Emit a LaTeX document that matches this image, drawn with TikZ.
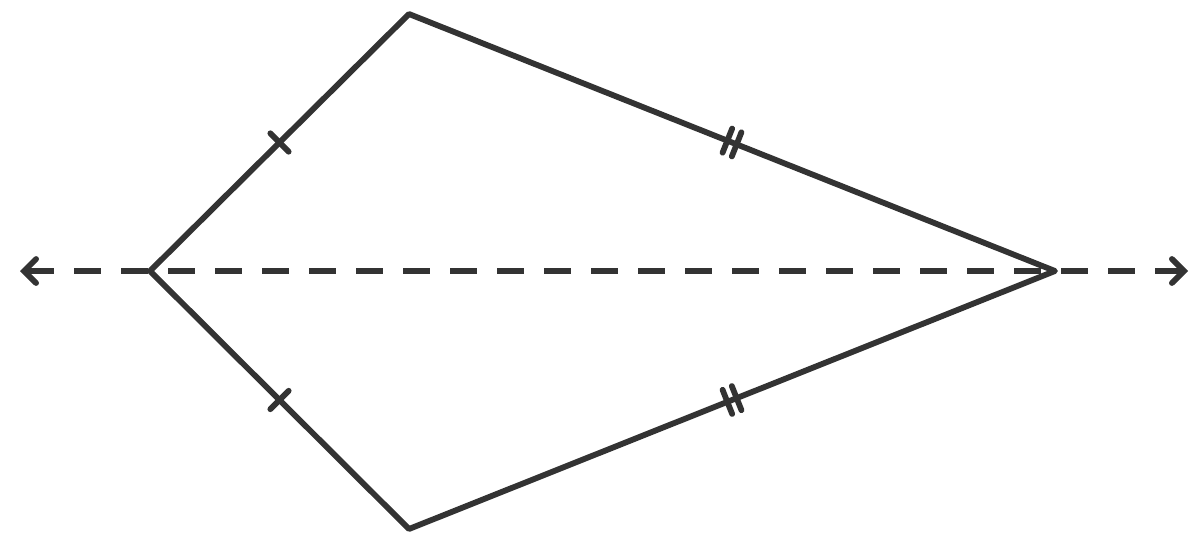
\documentclass[tikz,border=0pt]{standalone}
\usetikzlibrary{calc,arrows.meta}
\definecolor{ink}{HTML}{333333}
\begin{document}
\begin{tikzpicture}[x=1pt,y=-1pt,
  edge/.style={draw=ink,line width=5.8pt,line join=round},
  tick/.style={draw=ink,line width=5.8pt,line cap=round},
  axis/.style={draw=ink,line width=5.8pt,dash pattern=on 27pt off 20pt,
    {Straight Barb[length=12pt,width=24pt,line cap=round]}-{Straight Barb[length=12pt,width=24pt,line cap=round]}}]
\useasboundingbox (0,0) rectangle (1200,544);
\coordinate (L) at (150,271);
\coordinate (T) at (409,14);
\coordinate (R) at (1055,271);
\coordinate (B) at (409,529);
\coordinate (AL) at (20,271);
\coordinate (AR) at (1188,271);
\draw[axis] (AL) -- (AR);
\draw[edge] (L) -- (T) -- (R) -- (B) -- cycle;
% single ticks
\coordinate (M1) at ($(L)!0.5!(T)$);
\coordinate (M2) at ($(L)!0.5!(B)$);
\draw[tick] ($(M1)!13pt!90:(T)$) -- ($(M1)!13pt!-90:(T)$);
\draw[tick] ($(M2)!13pt!90:(B)$) -- ($(M2)!13pt!-90:(B)$);
% double ticks
\coordinate (M3) at ($(T)!0.5!(R)$);
\coordinate (M4) at ($(B)!0.5!(R)$);
\coordinate (M3a) at ($(M3)!5pt!(T)$);
\coordinate (M3b) at ($(M3)!5pt!(R)$);
\coordinate (M4a) at ($(M4)!5pt!(B)$);
\coordinate (M4b) at ($(M4)!5pt!(R)$);
\draw[tick] ($(M3a)!13pt!90:(R)$) -- ($(M3a)!13pt!-90:(R)$);
\draw[tick] ($(M3b)!13pt!90:(R)$) -- ($(M3b)!13pt!-90:(R)$);
\draw[tick] ($(M4a)!13pt!90:(R)$) -- ($(M4a)!13pt!-90:(R)$);
\draw[tick] ($(M4b)!13pt!90:(R)$) -- ($(M4b)!13pt!-90:(R)$);
\end{tikzpicture}
\end{document}
